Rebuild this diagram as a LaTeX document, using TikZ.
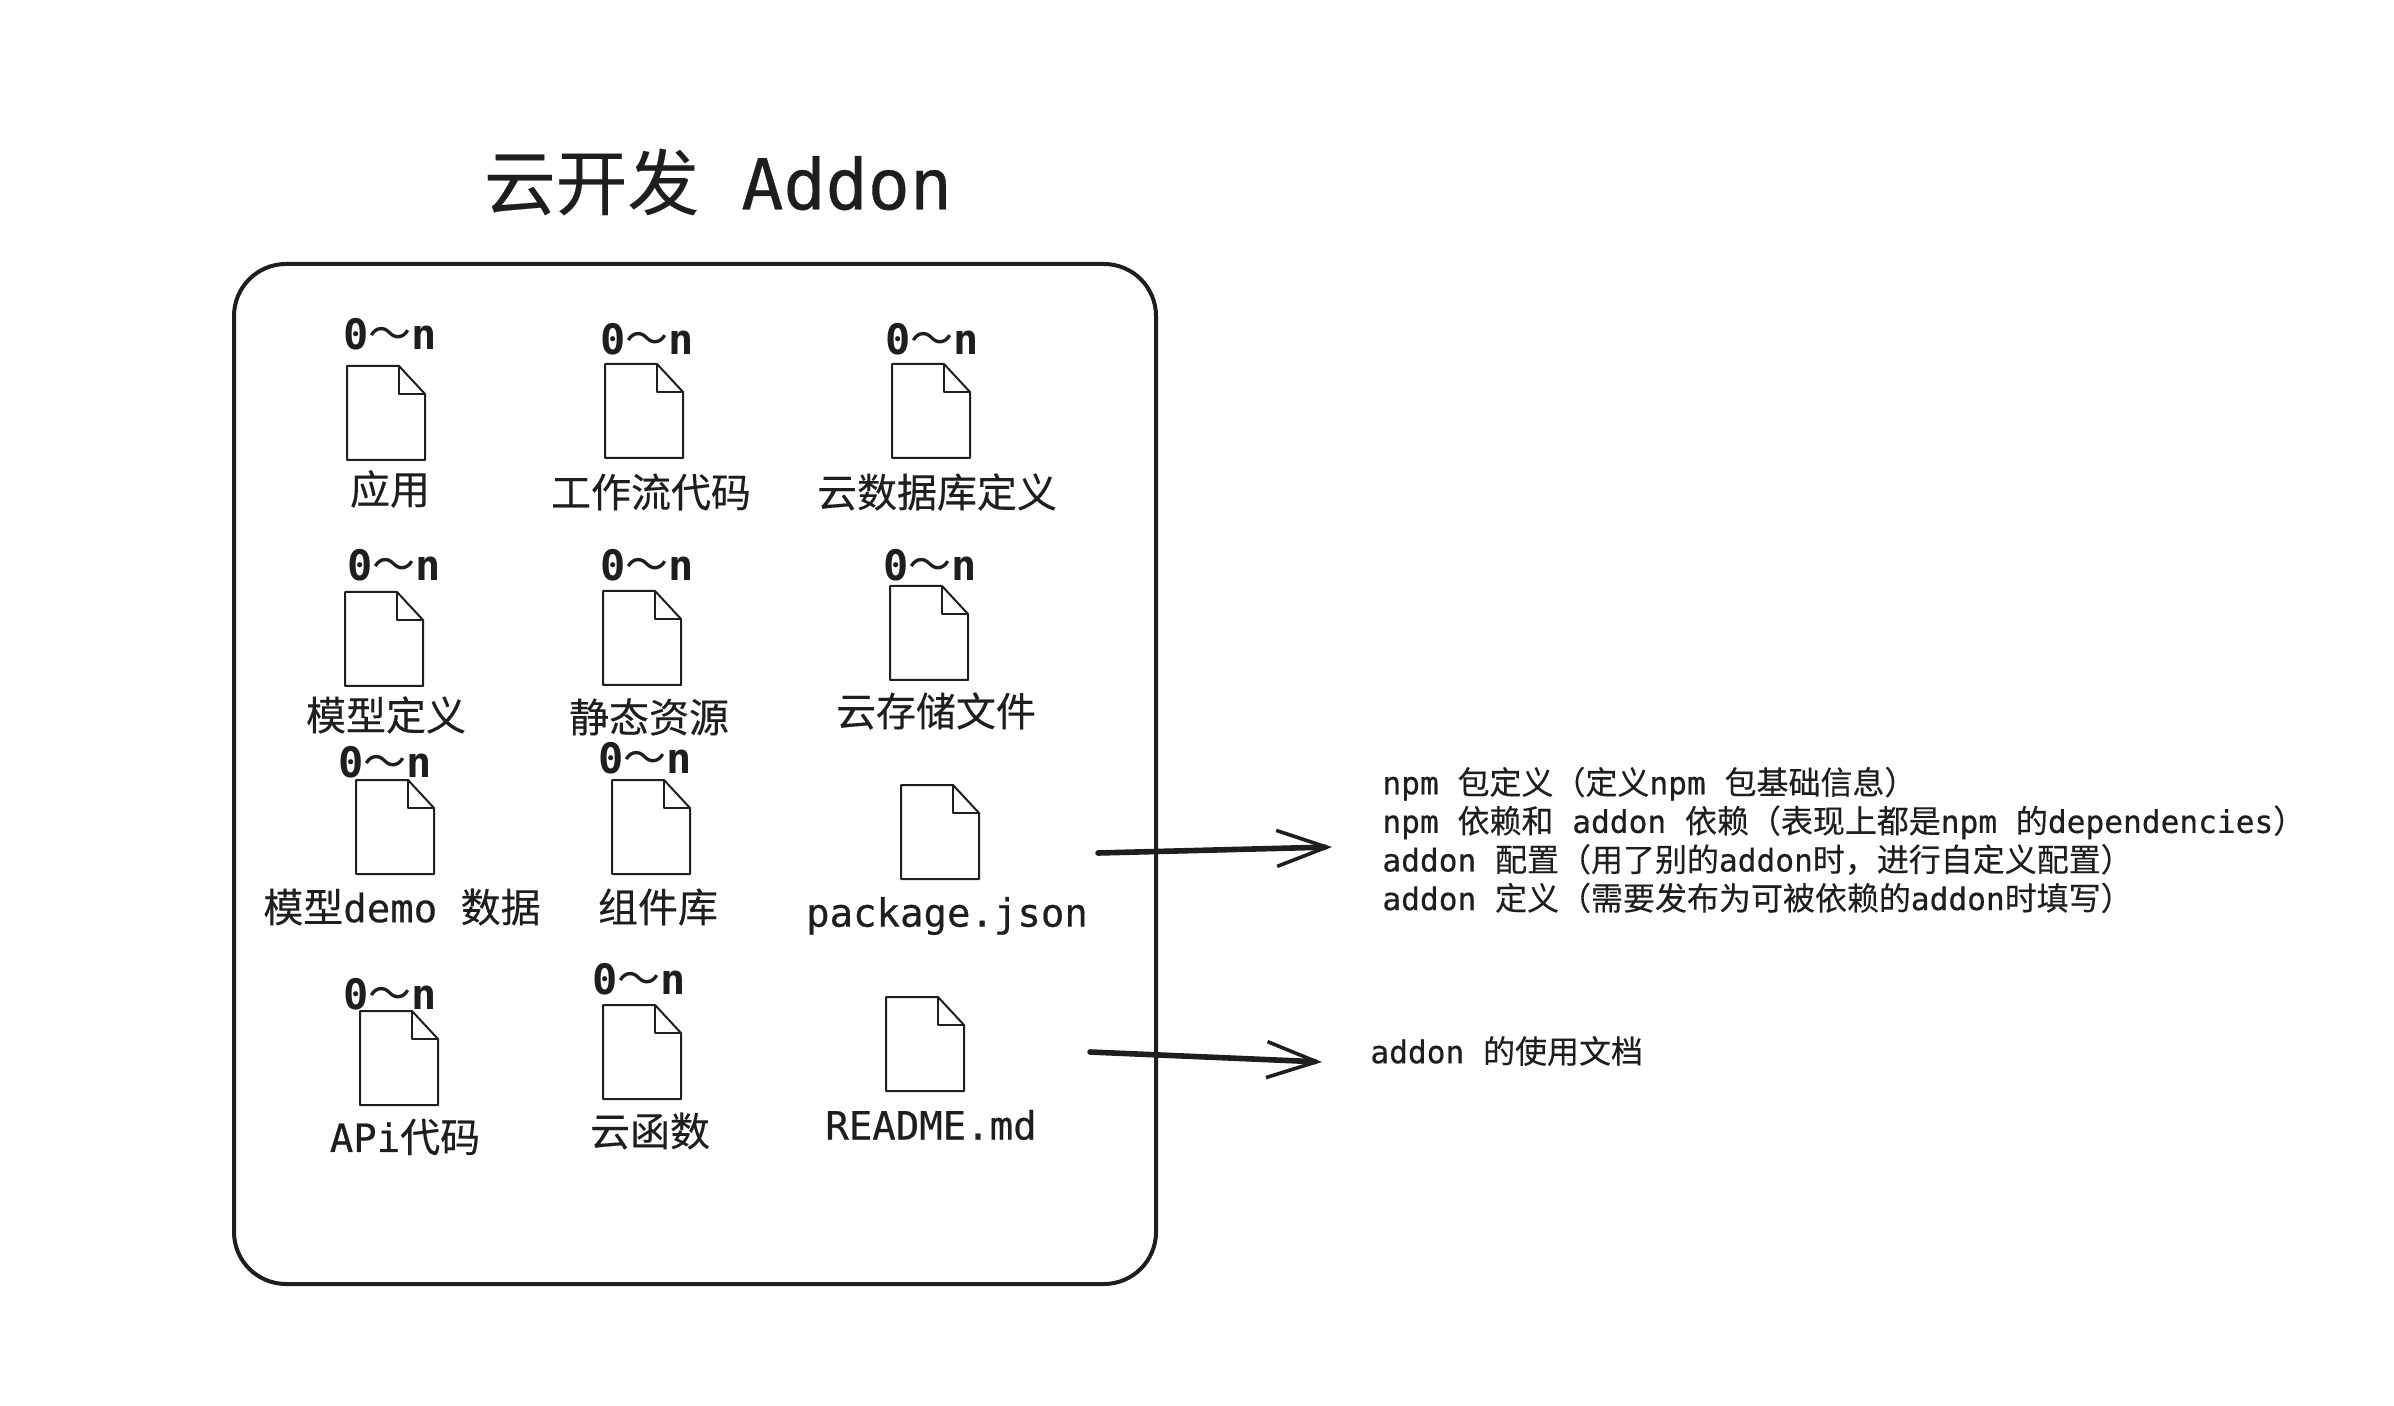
\documentclass[tikz,border=0pt]{standalone}
\usepackage{fontspec}
\setmainfont{DejaVu Sans Mono}[FakeBold=0.5]
\newfontfamily\countfont{DejaVu Sans Mono Bold}
\newfontfamily\cjkfont{Noto Sans CJK SC}[Scale=1.025, FakeBold=0.25]
\newfontfamily\cjkthin{Noto Sans CJK SC}[Scale=1.025]
\newcommand{\zh}[1]{{\cjkfont #1}}
\usetikzlibrary{arrows.meta}
\definecolor{inkline}{HTML}{1E1E1E}

\begin{document}
\begin{tikzpicture}[
                x=0.5pt, y=-0.5pt,
                every node/.style={text=inkline, inner sep=0pt},
                titletext/.style={font=\fontsize{35}{40}\selectfont},
                counttext/.style={font=\fontsize{21}{24}\selectfont\countfont},
                labeltext/.style={font=\fontsize{19.5}{24}\selectfont},
                notetext/.style={font=\fontsize{15.6}{19.3}\selectfont, align=left, anchor=west},
                addonbox/.style={rectangle, draw=inkline, line width=2pt, rounded corners=26pt, minimum width=461pt, minimum height=510pt},
                arrow/.style={-{Straight Barb[length=25pt, width=18pt, line width=1.8pt]}, draw=inkline, line width=2.8pt, line cap=round},
                fileicon/.pic={
                    \draw[inkline, line width=1pt, line join=round] (0,0) -- (52,0) -- (78,28) -- (78,94) -- (0,94) -- cycle;
                    \draw[inkline, line width=1pt, line join=round] (52,0) -- (52,28) -- (78,28);
                }
            ]
                \useasboundingbox (0,0) rectangle (2394,1406);

                \node[titletext] (title) at (718,182) {\zh{云开发} Addon};
                \node[addonbox] (addon) at (695,774) {};

                % first row
                \pic at (347,366) {fileicon};
                \node[counttext] (count1) at (390,334) {0{\cjkthin ～}n};
                \node[labeltext] (app) at (390,489) {\zh{应用}};
                \pic at (605,364) {fileicon};
                \node[counttext] (count2) at (647,339) {0{\cjkthin ～}n};
                \node[labeltext] (flow) at (651,492) {\zh{工作流代码}};
                \pic at (892,364) {fileicon};
                \node[counttext] (count3) at (932,339) {0{\cjkthin ～}n};
                \node[labeltext] (db) at (937,492) {\zh{云数据库定义}};

                % second row
                \pic at (345,592) {fileicon};
                \node[counttext] (count4) at (394,565) {0{\cjkthin ～}n};
                \node[labeltext] (model) at (386,715) {\zh{模型定义}};
                \pic at (603,591) {fileicon};
                \node[counttext] (count5) at (647,565) {0{\cjkthin ～}n};
                \node[labeltext] (assets) at (649,717) {\zh{静态资源}};
                \pic at (890,586) {fileicon};
                \node[counttext] (count6) at (930,565) {0{\cjkthin ～}n};
                \node[labeltext] (storage) at (936,711) {\zh{云存储文件}};

                % third row
                \pic at (356,780) {fileicon};
                \node[counttext] (count7) at (385,762) {0{\cjkthin ～}n};
                \node[labeltext] (demo) at (402,907) {\zh{模型}demo \zh{数据}};
                \pic at (612,780) {fileicon};
                \node[counttext] (count8) at (645,758) {0{\cjkthin ～}n};
                \node[labeltext] (comp) at (658,907) {\zh{组件库}};
                \pic at (901,785) {fileicon};
                \node[labeltext] (pkg) at (947,916) {package.json};

                % fourth row
                \pic at (360,1011) {fileicon};
                \node[counttext] (count9) at (390,994) {0{\cjkthin ～}n};
                \node[labeltext] (api) at (405,1137) {APi\zh{代码}};
                \pic at (603,1005) {fileicon};
                \node[counttext] (count10) at (639,979) {0{\cjkthin ～}n};
                \node[labeltext] (func) at (650,1131) {\zh{云函数}};
                \pic at (886,997) {fileicon};
                \node[labeltext] (readme) at (931,1125) {README.md};

                % notes on the right
                \node[notetext] (pkgnote) at (1382,840) {npm \zh{包定义（定义}npm \zh{包基础信息）}\\
                    npm \zh{依赖和} addon \zh{依赖（表现上都是}npm \zh{的}dependencies\zh{）}\\
                    addon \zh{配置（用了别的}addon\zh{时，进行自定义配置）}\\
                    addon \zh{定义（需要发布为可被依赖的}addon\zh{时填写）}};
                \node[notetext] (readmenote) at (1370,1051) {addon \zh{的使用文档}};

                \coordinate (pkgout) at (1098,853);
                \coordinate (pkgin) at (1332,847);
                \coordinate (readmeout) at (1090,1052);
                \coordinate (readmein) at (1322,1062);

                \draw[arrow] (pkgout) -- (pkgin);
                \draw[arrow] (readmeout) -- (readmein);
            \end{tikzpicture}
\end{document}
